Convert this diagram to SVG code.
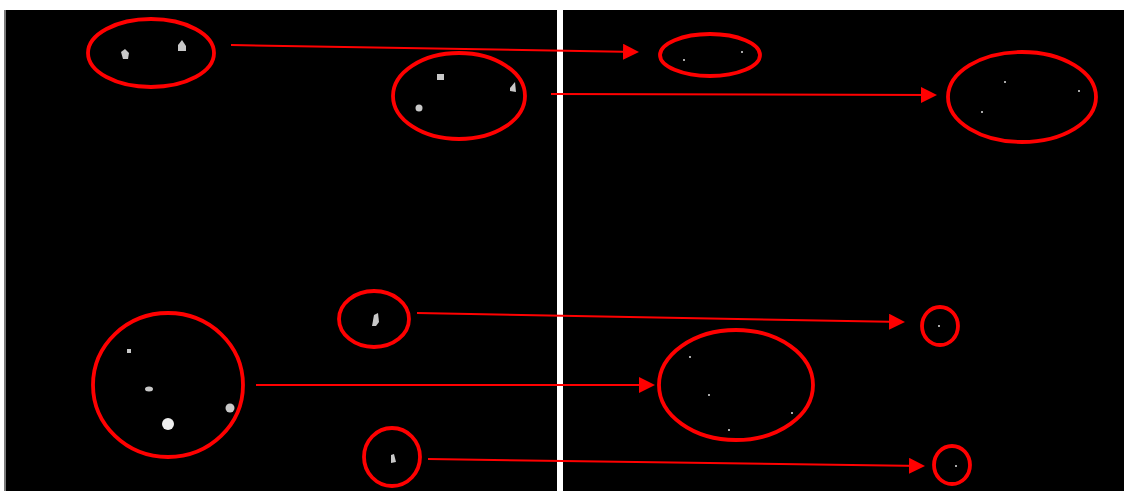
<svg xmlns="http://www.w3.org/2000/svg" width="1124" height="491" viewBox="0 0 1124 491">
<defs>
<style>
.ring{fill:none;stroke:#ff0000;stroke-width:3.8}
.conn{stroke:#ff0000;stroke-width:2;fill:none}
.spot{fill:#c8c8c8}
.tiny{fill:#e0e0e0}
</style>
<marker id="ah" markerWidth="16" markerHeight="16" refX="14" refY="8" orient="auto" markerUnits="userSpaceOnUse">
<path d="M0,0 L16,8 L0,16 Z" fill="#ff0000"/>
</marker>
</defs>
<rect x="0" y="0" width="1124" height="491" fill="#ffffff"/>
<rect x="4" y="10" width="553" height="481" fill="#000000"/>
<rect x="563" y="10" width="561" height="481" fill="#000000"/>
<rect x="4" y="10" width="2" height="481" fill="#7a7a7a"/>
<g id="left-top">
<ellipse class="ring" cx="151" cy="53" rx="63" ry="34"/>
<path class="spot" d="M121,52 L125,49 L129,53 L128,59 L123,59 Z"/>
<path class="spot" d="M178,45 L182,40 L186,46 L186,51 L178,51 Z"/>
</g>
<g id="left-mid-top">
<ellipse class="ring" cx="459" cy="96" rx="66" ry="43"/>
<rect class="spot" x="437" y="74" width="7" height="6"/>
<circle class="spot" cx="419" cy="108" r="3.5"/>
<path class="spot" d="M510,88 L515,82 L516,92 L510,91 Z"/>
</g>
<g id="right-top">
<ellipse class="ring" cx="710" cy="55" rx="50" ry="21"/>
<circle class="tiny" cx="684" cy="60" r="1"/>
<circle class="tiny" cx="742" cy="52" r="1"/>
</g>
<g id="right-mid-top">
<ellipse class="ring" cx="1022" cy="97" rx="74" ry="45"/>
<circle class="tiny" cx="1005" cy="82" r="1"/>
<circle class="tiny" cx="982" cy="112" r="1"/>
<circle class="tiny" cx="1079" cy="91" r="1"/>
</g>
<g id="left-mid">
<ellipse class="ring" cx="374" cy="319" rx="35" ry="28"/>
<path class="spot" d="M374,315 L378,313 L379,322 L376,326 L372,326 Z"/>
</g>
<g id="right-mid">
<ellipse class="ring" cx="940" cy="326" rx="18" ry="19"/>
<circle class="tiny" cx="939" cy="326" r="1"/>
</g>
<g id="left-big">
<ellipse class="ring" cx="168" cy="385" rx="75" ry="72"/>
<rect class="spot" x="127" y="349" width="4" height="4"/>
<ellipse class="spot" cx="149" cy="389" rx="4" ry="2.5"/>
<circle cx="168" cy="424" r="6" fill="#eeeeee"/>
<circle class="spot" cx="230" cy="408" r="4.5"/>
</g>
<g id="right-big">
<ellipse class="ring" cx="736" cy="385" rx="77" ry="55"/>
<circle class="tiny" cx="690" cy="357" r="1"/>
<circle class="tiny" cx="709" cy="395" r="1"/>
<circle class="tiny" cx="792" cy="413" r="1"/>
<circle class="tiny" cx="729" cy="430" r="1"/>
</g>
<g id="left-bottom">
<ellipse class="ring" cx="392" cy="457" rx="28" ry="29"/>
<path class="spot" d="M391,455 L394,454 L396,462 L391,463 Z"/>
</g>
<g id="right-bottom">
<ellipse class="ring" cx="952" cy="465" rx="18" ry="19"/>
<circle class="tiny" cx="956" cy="466" r="1"/>
</g>
<g id="connectors">
<line class="conn" x1="231" y1="45" x2="637" y2="52" marker-end="url(#ah)"/>
<line class="conn" x1="551" y1="94" x2="935" y2="95" marker-end="url(#ah)"/>
<line class="conn" x1="417" y1="313" x2="903" y2="322" marker-end="url(#ah)"/>
<line class="conn" x1="256" y1="385" x2="653" y2="385" marker-end="url(#ah)"/>
<line class="conn" x1="428" y1="459" x2="923" y2="466" marker-end="url(#ah)"/>
</g>
</svg>
